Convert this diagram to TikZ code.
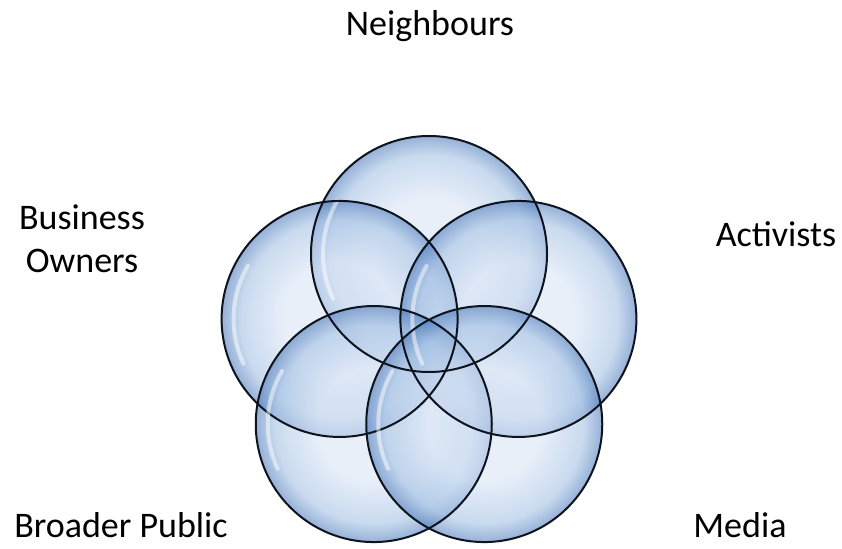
\documentclass[tikz,border=0pt]{standalone}
\usepackage{fontspec}
\setmainfont{Carlito}
\usetikzlibrary{calc}
\usetikzlibrary{positioning}
\definecolor{bubblein}{RGB}{216,228,245}
\definecolor{bubblemid}{RGB}{165,194,228}
\definecolor{bubbleout}{RGB}{80,124,188}
\definecolor{bubblerim}{RGB}{14,20,30}
\pgfdeclareradialshading{bubbleshade}{\pgfpointorigin}{%
	color(0bp)=(bubblein); color(12bp)=(bubblein); color(21bp)=(bubblemid);
	color(25bp)=(bubbleout); color(50bp)=(bubbleout)}
\tikzset{
	bubble/.style={
		circle,
		minimum size=236pt,
		inner sep=0pt,
		shade,
		shading=bubbleshade,
		fill opacity=0.6,
	},
	rim/.style={
		draw=bubblerim,
		line width=2pt,
	},
	shine/.style={
		draw=white,
		line width=4pt,
		line cap=round,
		opacity=0.5,
	},
	group/.style={
		font=\fontsize{36}{43}\selectfont,
		align=center,
		anchor=base,
		inner sep=0pt,
	},
}

\begin{document}
\begin{tikzpicture}[x=1pt,y=1pt]
		\useasboundingbox (0,0) rectangle (842,548);

		\coordinate (mid) at (429,200);

		\node[bubble] (nbr) at ($(mid)+(90:94)$) {};
		\node[bubble] (own) at ($(mid)+(162:94)$) {};
		\node[bubble] (act) at ($(mid)+(18:94)$) {};
		\node[bubble] (pub) at ($(mid)+(234:94)$) {};
		\node[bubble] (med) at ($(mid)+(306:94)$) {};

		% highlight + outline on top of all fills
		\foreach \n in {nbr,own,act,pub,med} {
			\draw[shine] ($(\n.center)+(150:106)$) arc[start angle=150, end angle=205, radius=106];
			\draw[rim] (\n.center) circle[radius=118];
		}

		\node[group] (nbrtext) at (430,512) {Neighbours};
		\node[group] (owntext) at (82,275) {Business\\Owners};
		\node[group] (acttext) at (776,301) {Activists};
		\node[group] (pubtext) at (121,10) {Broader Public};
		\node[group] (medtext) at (740,10) {Media};

	\end{tikzpicture}
\end{document}
